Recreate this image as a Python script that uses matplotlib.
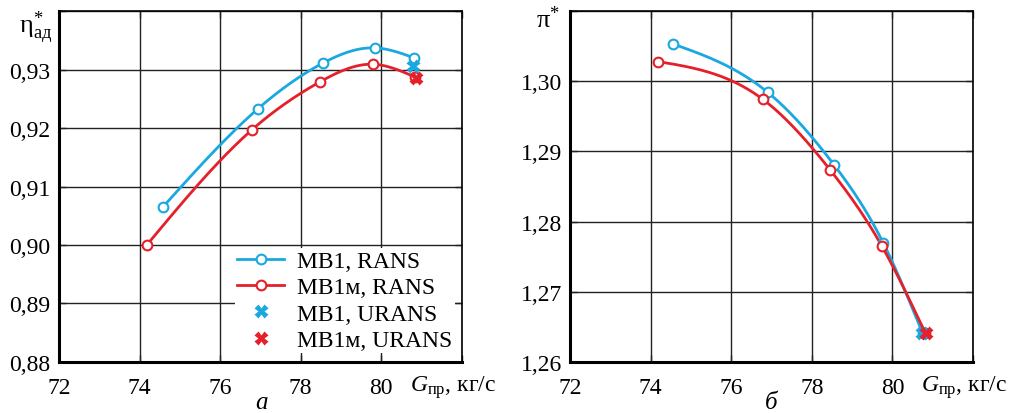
import matplotlib
matplotlib.use('Agg')
import matplotlib.pyplot as plt
import numpy as np

# данные
g_mb1_eta = [74.58, 76.94, 78.55, 79.84, 80.81]
eta_mb1 = [0.9065, 0.9233, 0.9311, 0.9337, 0.9320]
g_mb1m_eta = [74.18, 76.79, 78.48, 79.79, 80.84]
eta_mb1m = [0.9000, 0.9197, 0.9279, 0.9309, 0.9287]
g_urans_eta = [80.78, 80.85]
eta_urans = [0.9306, 0.9285]

g_mb1_pi = [74.56, 76.91, 78.55, 79.77, 80.75]
pi_mb1 = [1.3053, 1.2984, 1.2881, 1.2770, 1.2641]
g_mb1m_pi = [74.18, 76.79, 78.45, 79.74, 80.82]
pi_mb1m = [1.3028, 1.2974, 1.2874, 1.2765, 1.2641]
g_urans_pi = [80.74, 80.84]
pi_urans = [1.2641, 1.2641]

x_ticks = [72, 74, 76, 78, 80]
eta_ticks = [0.88, 0.89, 0.90, 0.91, 0.92, 0.93]
pi_ticks = [1.26, 1.27, 1.28, 1.29, 1.30]

BLUE = '#1AA8E0'
RED = '#E5202A'

plt.rcParams['font.family'] = ['Liberation Serif', 'DejaVu Serif']
plt.rcParams['mathtext.fontset'] = 'custom'
plt.rcParams['mathtext.rm'] = 'Liberation Serif'
plt.rcParams['mathtext.it'] = 'Liberation Serif:italic'


def spline(x, y, n=200):
    # натуральный кубический сплайн, только для отрисовки линии
    x = np.asarray(x, float)
    y = np.asarray(y, float)
    k = len(x)
    h = np.diff(x)
    A = np.zeros((k, k))
    b = np.zeros(k)
    A[0, 0] = A[-1, -1] = 1
    for i in range(1, k - 1):
        A[i, i - 1] = h[i - 1]
        A[i, i] = 2 * (h[i - 1] + h[i])
        A[i, i + 1] = h[i]
        b[i] = 6 * ((y[i + 1] - y[i]) / h[i] - (y[i] - y[i - 1]) / h[i - 1])
    M = np.linalg.solve(A, b)
    xs = np.linspace(x[0], x[-1], n)
    idx = np.clip(np.searchsorted(x, xs) - 1, 0, k - 2)
    x0, x1 = x[idx], x[idx + 1]
    hh = x1 - x0
    ys = (M[idx] * (x1 - xs) ** 3 / (6 * hh) + M[idx + 1] * (xs - x0) ** 3 / (6 * hh)
          + (y[idx] / hh - M[idx] * hh / 6) * (x1 - xs)
          + (y[idx + 1] / hh - M[idx + 1] * hh / 6) * (xs - x0))
    return xs, ys


def draw_series(ax, x, y, color, label):
    xs, ys = spline(x, y)
    ax.plot(xs, ys, color=color, lw=2.0, zorder=3)
    ax.plot(x, y, ls='none', marker='o', ms=7, mfc='white', mec=color, mew=1.5, zorder=4)
    ax.plot([], [], color=color, lw=2.0, marker='o', ms=7, mfc='white', mec=color, mew=1.5, label=label)


def style_axes(ax, ylim, yticks, ylabels):
    ax.set_xlim(72, 82)
    ax.set_ylim(*ylim)
    ax.set_xticks(x_ticks + [82])
    ax.set_xticklabels([str(t) for t in x_ticks] + [''])
    ax.set_yticks(yticks + [ylim[1]])
    ax.set_yticklabels(ylabels + [''])
    ax.grid(True, color='#222222', lw=1.0)
    ax.set_axisbelow(True)
    ax.tick_params(direction='in', length=5, width=1, labelsize=17, top=True, right=True,
                   color='#222222')
    ax.tick_params(axis='x', pad=11)
    ax.tick_params(axis='y', pad=6)
    for s in ['left', 'bottom']:
        ax.spines[s].set_linewidth(2.2)
    for s in ['top', 'right']:
        ax.spines[s].set_linewidth(1.2)
    ax.text(80.7, -0.07, r'$G_{\mathrm{пр}}$, кг/с', transform=ax.get_xaxis_transform(),
            fontsize=17, ha='left', va='center')


fig = plt.figure(figsize=(10.13, 4.14), dpi=100)
ax1 = fig.add_axes([0.0582, 0.1232, 0.3978, 0.8478])
ax2 = fig.add_axes([0.5627, 0.1232, 0.3978, 0.8478])

# а) КПД
draw_series(ax1, g_mb1_eta, eta_mb1, BLUE, 'МВ1, RANS')
draw_series(ax1, g_mb1m_eta, eta_mb1m, RED, 'МВ1м, RANS')
ax1.plot(g_urans_eta[0], eta_urans[0], ls='none', marker='X', ms=10, color=BLUE, mec='none', zorder=5, label='МВ1, URANS')
ax1.plot(g_urans_eta[1], eta_urans[1], ls='none', marker='X', ms=10, color=RED, mec='none', zorder=6, label='МВ1м, URANS')
style_axes(ax1, (0.88, 0.94), eta_ticks, ['0,88', '0,89', '0,90', '0,91', '0,92', '0,93'])
ax1.text(-0.017, 0.957, r'$\mathrm{η}^{*}_{\mathrm{ад}}$', transform=ax1.transAxes,
         fontsize=19, ha='right', va='center')
leg = ax1.legend(loc='lower right', fontsize=17, frameon=True, fancybox=False,
                 edgecolor='none', facecolor='white', framealpha=1,
                 handlelength=2.0, handletextpad=0.55, labelspacing=0.2,
                 borderpad=0.1, borderaxespad=0.3, bbox_to_anchor=(1.0, 0.005))
leg.set_zorder(10)

# б) степень повышения давления
draw_series(ax2, g_mb1_pi, pi_mb1, BLUE, 'МВ1, RANS')
draw_series(ax2, g_mb1m_pi, pi_mb1m, RED, 'МВ1м, RANS')
ax2.plot(g_urans_pi[0], pi_urans[0], ls='none', marker='X', ms=10, color=BLUE, mec='none', zorder=5)
ax2.plot(g_urans_pi[1], pi_urans[1], ls='none', marker='X', ms=10, color=RED, mec='none', zorder=6)
style_axes(ax2, (1.26, 1.31), pi_ticks, ['1,26', '1,27', '1,28', '1,29', '1,30'])
ax2.text(-0.025, 0.977, r'$\mathrm{π}^{*}$', transform=ax2.transAxes,
         fontsize=19, ha='right', va='center')

fig.text(0.258, 0.012, 'а', fontsize=18, style='italic', ha='center', va='baseline')
fig.text(0.761, 0.012, 'б', fontsize=18, style='italic', ha='center', va='baseline')

fig.savefig('out.png', dpi=100)
